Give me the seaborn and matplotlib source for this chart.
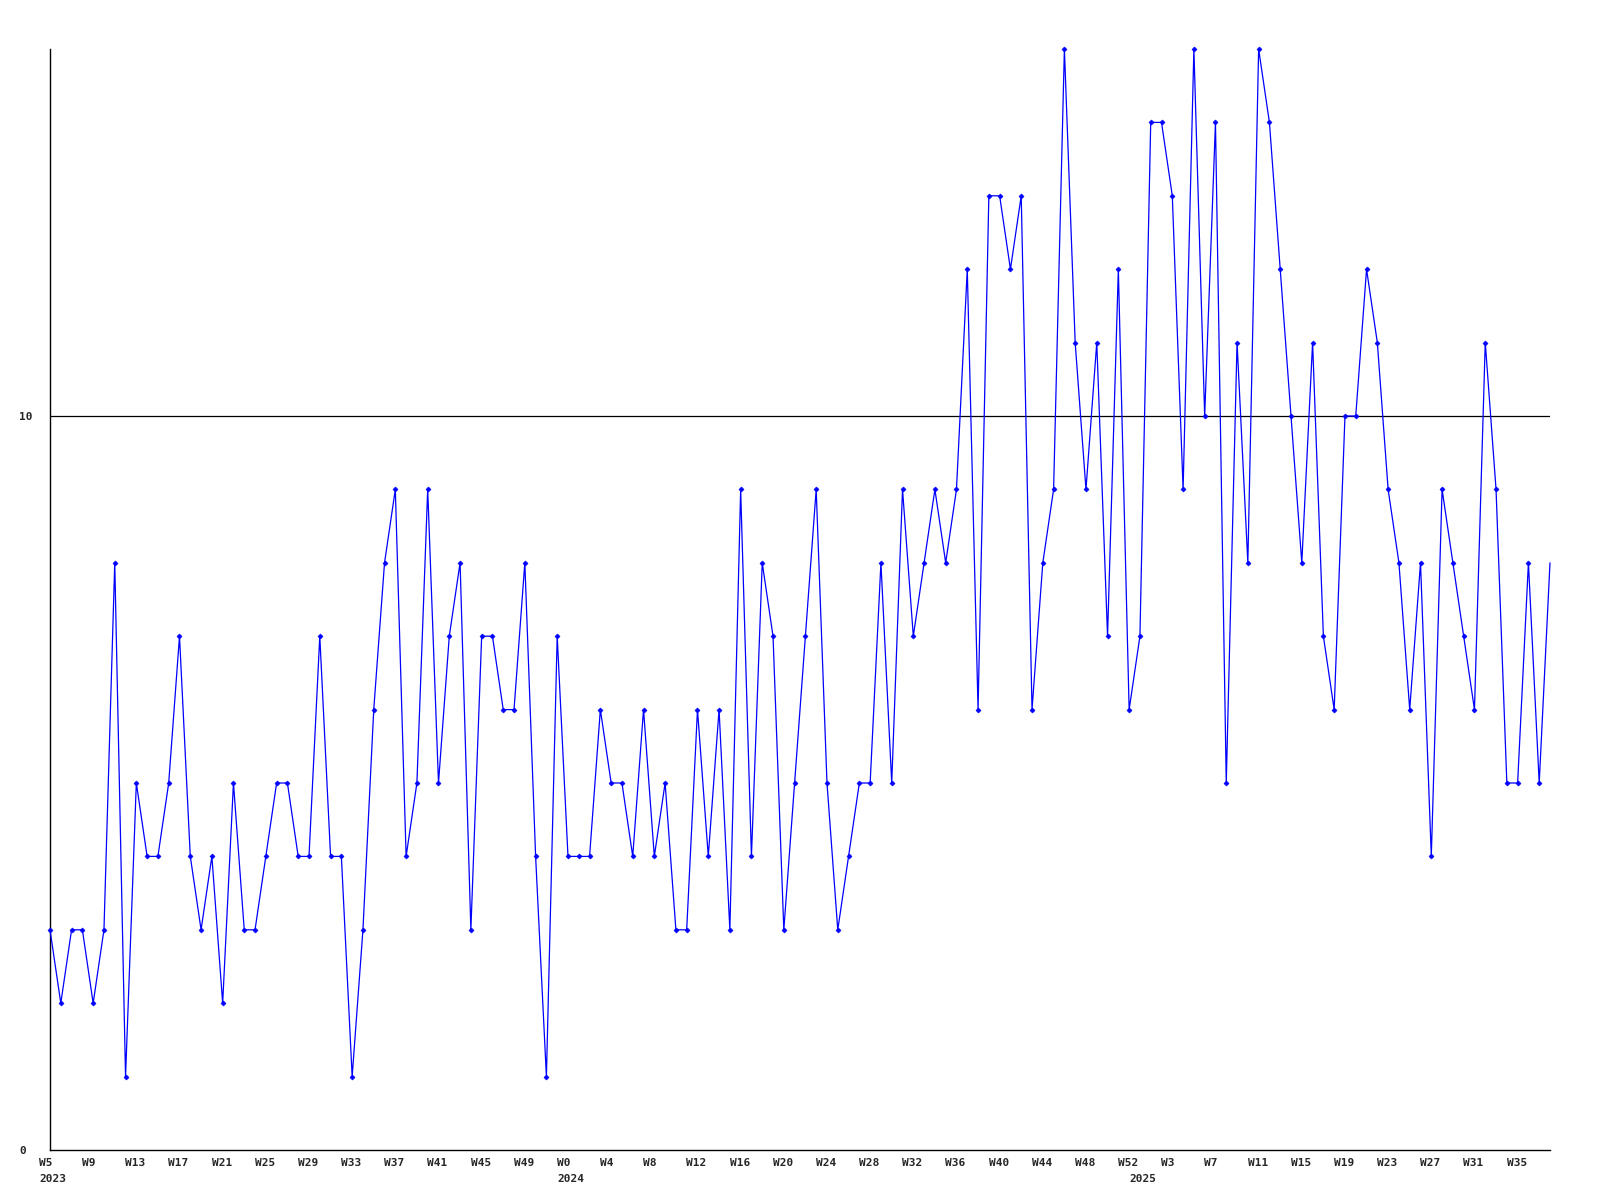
import numpy as np
import pandas as pd
import matplotlib
matplotlib.use("Agg")
import matplotlib.pyplot as plt
import matplotlib.transforms as mtransforms
import seaborn as sns

# ---- data ----
values = [3, 2, 3, 3, 2, 3, 8, 1, 5, 4, 4, 5, 7, 4, 3, 4, 2, 5, 3, 3, 4, 5, 5, 4,
          4, 7, 4, 4, 1, 3, 6, 8, 9, 4, 5, 9, 5, 7, 8, 3, 7, 7, 6, 6, 8, 4, 1,
          7, 4, 4, 4, 6, 5, 5, 4, 6, 4, 5, 3, 3, 6, 4, 6, 3, 9, 4, 8, 7, 3, 5,
          7, 9, 5, 3, 4, 5, 5, 8, 5, 9, 7, 8, 9, 8, 9, 12, 6, 13, 13, 12, 13, 6, 8,
          9, 15, 11, 9, 11, 7, 12, 6, 7, 14, 14, 13, 9, 15, 10, 14, 5, 11, 8, 15, 14, 12, 10, 8,
          11, 7, 6, 10, 10, 12, 11, 9, 8, 6, 8, 4, 9, 8, 7, 6, 11, 9, 5, 5, 8, 5, 8]
week_numbers = list(range(5, 53)) + list(range(0, 53)) + list(range(0, 39))
week_years = [2023] * 48 + [2024] * 53 + [2025] * 39
y_ticks = [0, 10]
y_max = 15
ref_level = 10

df = pd.DataFrame({"idx": np.arange(len(values)), "value": values,
                   "week": week_numbers, "year": week_years})

# ---- figure ----
sns.set_style("white")
plt.rcParams["font.family"] = ["DejaVu Sans Mono", "DejaVu Sans"]
fig = plt.figure(figsize=(16, 12), dpi=100)
ax = fig.add_axes([50 / 1600, 1 - 1150 / 1200, 1500 / 1600, 1101 / 1200])

ax.axhline(ref_level, color="black", lw=0.9, zorder=1)
sns.lineplot(data=df, x="idx", y="value", ax=ax, color="#0000ff", lw=0.9,
             marker="D", markersize=2.6, markeredgewidth=0.4,
             markeredgecolor="#0000ff", markerfacecolor="#0000ff",
             markevery=list(range(len(values) - 1)), clip_on=False, zorder=3)

ax.set_xlim(0, len(values) - 1)
ax.set_ylim(0, y_max)
ax.set_xlabel("")
ax.set_ylabel("")

for s in ["top", "right"]:
    ax.spines[s].set_visible(False)
for s in ["left", "bottom"]:
    ax.spines[s].set_color("black")
    ax.spines[s].set_linewidth(1.0)

# x tick labels: every 4th week, left-shifted
tick_idx = list(range(0, len(values), 4))
ax.set_xticks(tick_idx)
ax.set_xticklabels([f"W{week_numbers[i]}" for i in tick_idx],
                   fontsize=8, fontweight="bold")
ax.tick_params(axis="x", length=0, pad=6)
shift_x = mtransforms.ScaledTranslation(-11 / 100, 0, fig.dpi_scale_trans)
for lbl in ax.get_xticklabels():
    lbl.set_ha("left")
    lbl.set_transform(lbl.get_transform() + shift_x)

# year labels at the first week of each year
blend = mtransforms.blended_transform_factory(ax.transData, ax.transAxes)
year_shift = mtransforms.ScaledTranslation(-11 / 100, -24 / 100, fig.dpi_scale_trans)
seen = set()
for i, yr in enumerate(week_years):
    if yr not in seen:
        seen.add(yr)
        ax.text(i, 0, str(yr), transform=blend + year_shift, ha="left", va="top",
                fontsize=8, fontweight="bold", clip_on=False)

# y ticks
ax.set_yticks(y_ticks)
ax.set_yticklabels([str(v) for v in y_ticks], fontsize=8, fontweight="bold")
ax.tick_params(axis="y", length=0, pad=31 * 72 / 100)
for lbl in ax.get_yticklabels():
    lbl.set_ha("left")

ax.grid(False)
fig.savefig("out.png", dpi=100, facecolor="white")
